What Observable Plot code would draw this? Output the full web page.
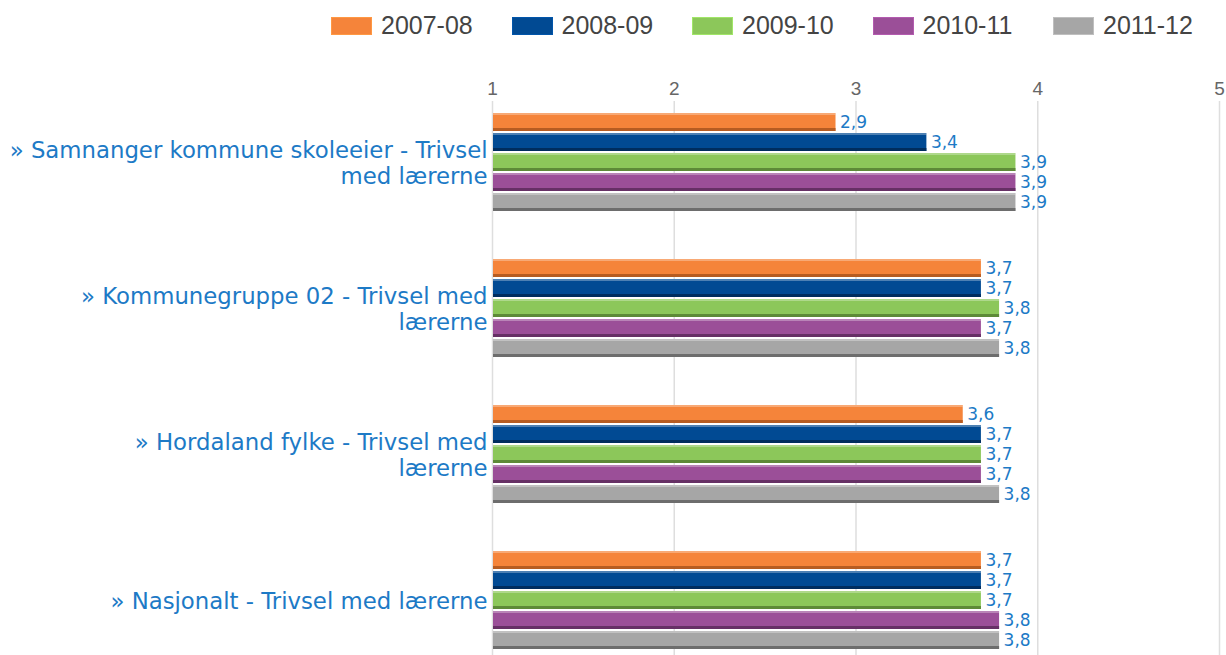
<!DOCTYPE html>
<html>
<head>
<meta charset="utf-8">
<script src="https://cdn.jsdelivr.net/npm/d3@7"></script>
<script src="https://cdn.jsdelivr.net/npm/@observablehq/plot@0.6"></script>
<style>
  html, body { margin: 0; padding: 0; background: #fff; overflow: hidden; }
  #wrap { position: relative; width: 1226px; height: 655px; }
  #legend { position: absolute; top: 11px; left: 331px; display: flex; font-family: "Liberation Sans", Arial, sans-serif; font-size: 25px; color: #444; }
  .item { display: flex; align-items: center; width: 180.5px; }
  .sw { width: 41px; height: 18px; margin-right: 9px; box-sizing: border-box; }
  #chart { position: absolute; top: 0; left: 0; }
</style>
</head>
<body>
<div id="wrap">
  <div id="chart"></div>
  <div id="legend"></div>
</div>
<script>
// ---- data ----
const categories = [
  "» Samnanger kommune skoleeier - Trivsel med lærerne",
  "» Kommunegruppe 02 - Trivsel med lærerne",
  "» Hordaland fylke - Trivsel med lærerne",
  "» Nasjonalt - Trivsel med lærerne"
];
const categoryLabels = [
  "» Samnanger kommune skoleeier - Trivsel\nmed lærerne",
  "» Kommunegruppe 02 - Trivsel med\nlærerne",
  "» Hordaland fylke - Trivsel med\nlærerne",
  "» Nasjonalt - Trivsel med lærerne"
];
const series = ["2007-08", "2008-09", "2009-10", "2010-11", "2011-12"];
const values2007_08 = [2.89, 3.69, 3.59, 3.69];
const values2008_09 = [3.39, 3.69, 3.69, 3.69];
const values2009_10 = [3.88, 3.79, 3.69, 3.69];
const values2010_11 = [3.88, 3.69, 3.69, 3.79];
const values2011_12 = [3.88, 3.79, 3.79, 3.79];
const xTicks = [1, 2, 3, 4, 5];
const axisMin = 1;

// ---- styles ----
const colors = ["#f5843a", "#014a93", "#8cc75a", "#9b4f98", "#a6a6a6"];
const darkColors = ["#b65c22", "#002d5e", "#5d8a38", "#663065", "#6d6d6d"];
const labelBlue = "#1d7ac6";

const seriesValues = [values2007_08, values2008_09, values2009_10, values2010_11, values2011_12];
const rows = [];
categories.forEach((c, i) => {
  series.forEach((s, j) => {
    rows.push({group: c, series: s, value: seriesValues[j][i], si: j});
  });
});
const labelRows = categories.map((c, i) => ({group: c, label: categoryLabels[i]}));
const midSeries = series[Math.floor(series.length / 2)];
const fmt = v => d3.format(".1f")(v).replace(".", ",");

const plot = Plot.plot({
  width: 1226,
  height: 655,
  marginTop: 101,
  marginBottom: -30,
  marginLeft: 492,
  marginRight: 7,
  style: {fontFamily: "DejaVu Sans, sans-serif", background: "transparent"},
  x: {domain: [1, 5]},
  y: {domain: series, paddingInner: 0.125, paddingOuter: 1.2125, align: 0.247, axis: null},
  fy: {domain: categories, padding: 0, axis: null},
  marks: [
    Plot.gridX(xTicks, {stroke: "#dedede", strokeOpacity: 1, strokeWidth: 1.5}),
    Plot.barX(rows, {x1: axisMin, x2: "value", y: "series", fy: "group", fill: d => colors[d.si], insetLeft: 1}),
    Plot.barX(rows, {x1: axisMin, x2: "value", y: "series", fy: "group", fill: "#fff", fillOpacity: 0.3, insetLeft: 1, insetBottom: 16}),
    Plot.barX(rows, {x1: axisMin, x2: "value", y: "series", fy: "group", fill: d => darkColors[d.si], insetLeft: 1, insetTop: 15}),
    Plot.ruleX(rows, {x: "value", y: "series", fy: "group", stroke: d => darkColors[d.si], strokeWidth: 3, dx: -1.5}),
    Plot.text(rows, {x: "value", y: "series", fy: "group", text: d => fmt(d.value), textAnchor: "start", dx: 4, fill: labelBlue, fontSize: 17}),
    Plot.text(labelRows, {fy: "group", y: () => midSeries, frameAnchor: "left", text: "label", textAnchor: "end", dx: -5, fill: labelBlue, fontSize: 22.8, lineHeight: 1.15}),
    Plot.axisX(xTicks, {anchor: "top", tickSize: 0, tickPadding: 7, label: null, fontSize: 19, fill: "#666", fontFamily: "Liberation Sans, Arial, sans-serif", tickFormat: d => String(d)})
  ]
});
document.getElementById("chart").appendChild(plot);

// legend
const legend = document.getElementById("legend");
series.forEach((s, j) => {
  const item = document.createElement("div");
  item.className = "item";
  const sw = document.createElement("span");
  sw.className = "sw";
  sw.style.background = colors[j];
  sw.style.border = "1px solid " + d3.color(colors[j]).brighter(0.4);
  const t = document.createElement("span");
  t.textContent = s;
  item.appendChild(sw);
  item.appendChild(t);
  legend.appendChild(item);
});
</script>
</body>
</html>
